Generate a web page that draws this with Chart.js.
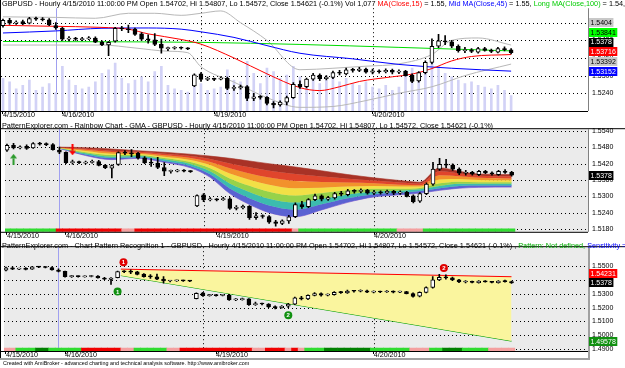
<!DOCTYPE html>
<html>
<head>
<meta charset="utf-8">
<script src="https://cdn.jsdelivr.net/npm/chart.js@4.4.1/dist/chart.umd.min.js"></script>
<style>
  body { margin: 0; width: 625px; height: 368px; overflow: hidden; background: #fff; position: relative;
         font-family: "Liberation Sans", Arial, sans-serif; }
  canvas { position: absolute; left: 0; }
  .hdr { position: absolute; left: 2px; font-size: 7.3px; line-height: 9px; white-space: nowrap; color: #000; z-index: 3; }
  #foot { position: absolute; left: 3px; top: 359px; font-size: 5.4px; line-height: 8px; white-space: nowrap; }
</style>
</head>
<body>
<div class="hdr" id="h1" style="top:-1px">GBPUSD - Hourly 4/15/2010 11:00:00 PM Open 1.54702, Hi 1.54807, Lo 1.54572, Close 1.54621 (-0.1%) Vol 1,077 <span style="color:#f00">MA(Close,15)</span> = 1.55, <span style="color:#00f">Mid MA(Close,45)</span> = 1.55, <span style="color:#0c0">Long MA(Close,100)</span> = 1.54, <span style="color:#999">BBTop(Close,15,2) = 1.55</span></div>
<div class="hdr" id="h2" style="top:121px">PatternExplorer.com - Rainbow Chart - GMA - GBPUSD - Hourly 4/15/2010 11:00:00 PM Open 1.54702, Hi 1.54807, Lo 1.54572, Close 1.54621 (-0.1%)</div>
<div class="hdr" id="h3" style="top:241px">PatternExplorer.com - Chart Pattern Recognition 1 - GBPUSD - Hourly 4/15/2010 11:00:00 PM Open 1.54702, Hi 1.54807, Lo 1.54572, Close 1.54621 (-0.1%) , <span style="color:#0a0">Pattern: Not defined,</span> <span style="color:#00f">Sensitivity = 1</span></div>
<canvas id="c1" width="625" height="121" style="top:0"></canvas>
<canvas id="c2" width="625" height="119" style="top:121px"></canvas>
<canvas id="c3" width="625" height="121" style="top:239px"></canvas>
<div id="foot">Created with AmiBroker - advanced charting and technical analysis software. http://www.amibroker.com</div>
<script>
// ---- hourly bars, 4/15/2010 15:00 .. 4/20/2010 21:00 ----
const opens = [1.5470,1.5488,1.5478,1.5484,1.5478,1.5494,1.5492,1.5490,1.54702,
  1.5462,1.5424,1.5427,1.5422,1.5425,1.5428,1.5414,1.5404,1.5417,1.5461,1.5459,1.5458,1.5442,1.5424,1.5422,1.5406,1.5392,1.5393,1.5395,1.5393,
  1.5265,1.5306,1.5287,1.5289,1.5288,1.5291,1.5256,1.5258,1.5263,1.5222,1.5228,1.5226,1.5206,1.5200,1.5210,1.5225,1.5270,1.5262,1.5288,1.5302,
  1.5290,1.5294,1.5310,1.5306,1.5320,1.5318,1.5322,1.5312,1.5316,1.5313,1.5318,1.5312,1.5315,1.5302,1.5282,1.5310,1.5345,1.5400,1.5418,1.5415,
  1.5400,1.5385,1.5388,1.5380,1.5392,1.5386,1.5380,1.5392,1.5388];
const highs = [1.5492,1.5495,1.5486,1.5489,1.5498,1.5499,1.5497,1.5494,1.54807,
  1.5464,1.5433,1.5430,1.5430,1.5433,1.5432,1.5418,1.5416,1.5464,1.5468,1.5472,1.5462,1.5446,1.5439,1.5443,1.5424,1.5397,1.5399,1.5398,1.5395,
  1.5306,1.5310,1.5295,1.5292,1.5296,1.5295,1.5266,1.5268,1.5266,1.5240,1.5232,1.5229,1.5212,1.5214,1.5230,1.5276,1.5282,1.5292,1.5308,1.5306,
  1.5300,1.5315,1.5318,1.5326,1.5325,1.5328,1.5326,1.5322,1.5320,1.5323,1.5322,1.5320,1.5318,1.5306,1.5314,1.5350,1.5425,1.5440,1.5436,1.5420,
  1.5405,1.5396,1.5392,1.5396,1.5396,1.5390,1.5396,1.5398,1.5392];
const lows = [1.5465,1.5474,1.5474,1.5473,1.5476,1.5488,1.5486,1.5470,1.54572,
  1.5420,1.5418,1.5420,1.5419,1.5422,1.5412,1.5402,1.5368,1.5414,1.5453,1.5446,1.5437,1.5420,1.5410,1.5402,1.5376,1.5385,1.5390,1.5390,1.5388,
  1.5262,1.5280,1.5283,1.5283,1.5285,1.5252,1.5250,1.5254,1.5215,1.5215,1.5220,1.5200,1.5190,1.5196,1.5200,1.5222,1.5256,1.5258,1.5284,1.5283,
  1.5285,1.5290,1.5302,1.5302,1.5312,1.5313,1.5308,1.5306,1.5308,1.5309,1.5306,1.5307,1.5298,1.5276,1.5278,1.5306,1.5340,1.5395,1.5405,1.5395,
  1.5380,1.5378,1.5378,1.5376,1.5383,1.5378,1.5377,1.5384,1.5374];
const closes = [1.5488,1.5478,1.5482,1.5476,1.5494,1.5492,1.5490,1.5472,1.54621,
  1.5424,1.5427,1.5424,1.5426,1.5428,1.5414,1.5405,1.5413,1.5461,1.5459,1.5456,1.5440,1.5424,1.5422,1.5406,1.5393,1.5393,1.5396,1.5393,1.5391,
  1.5303,1.5287,1.5289,1.5287,1.5290,1.5256,1.5260,1.5263,1.5222,1.5228,1.5226,1.5205,1.5200,1.5210,1.5225,1.5270,1.5262,1.5288,1.5302,1.5290,
  1.5295,1.5310,1.5308,1.5320,1.5318,1.5322,1.5312,1.5316,1.5313,1.5318,1.5312,1.5315,1.5300,1.5280,1.5310,1.5345,1.5400,1.5418,1.5415,1.5400,
  1.5385,1.5388,1.5382,1.5392,1.5386,1.5382,1.5392,1.5388,1.5378];
const volumes = [1900,1700,1300,1500,1800,1200,1400,1600,1077,
  2600,1800,1500,1300,1400,1700,2200,2400,2800,1900,1600,1800,2000,1700,2300,2600,1500,1300,1200,1100,
  2100,1600,1200,1300,1400,2400,1800,1700,2900,2200,1600,2500,2300,1900,2100,2600,2000,1700,1900,1600,
  1800,2200,1700,1900,1600,1500,1700,1400,1300,1500,1200,1400,2300,2500,2100,2700,3000,2600,2200,2000,
  1800,1600,1700,1500,1400,1300,1500,1200,900];

// x axis: day ticks, dotted session lines, selected bar
const dayTicks = [0, 9, 32, 56];
const dayLabels = ['4/15/2010', '4/16/2010', '4/19/2010', '4/20/2010'];
const vGrid = [30, 56];
const selIdx = 8;
const xMin = -0.3, xMax = 88.65;

// y tick labels per pane
const ticksTop = [1.5240, 1.5300, 1.5360, 1.5420, 1.5480];
const ticksMid = [1.5180, 1.5240, 1.5300, 1.5360, 1.5420, 1.5480, 1.5540];
const ticksBot = [1.4900, 1.5000, 1.5100, 1.5200, 1.5300, 1.5400, 1.5500];

// top pane indicators [bar, value]
const ma15 = [[0,1.5471],[7,1.5468],[15,1.5464],[19,1.5458],[22,1.5442],[27,1.5423],[30,1.5407],[35,1.5360],[40,1.5306],[45,1.5259],
  [48,1.5249],[51,1.5262],[54,1.5280],[59,1.5296],[62,1.5305],[65,1.5324],[68,1.5350],[71,1.5365],[77,1.53716]];
const ma45 = [[0,1.5445],[8,1.5452],[15,1.5461],[22,1.5462],[27,1.5458],[30,1.5449],[35,1.5430],[40,1.5402],[45,1.5376],
  [53,1.5357],[60,1.5338],[68,1.5325],[77,1.53152]];
const ma100 = [[0,1.5416],[30,1.5413],[45,1.5406],[60,1.5396],[77,1.53841]];
const bbTop = [[0,1.5500],[8,1.5498],[14,1.5495],[19,1.5512],[23,1.5512],[27,1.5505],[30,1.5512],[33,1.5520],[36,1.5480],[40,1.5420],
  [45,1.5320],[50,1.5325],[55,1.5332],[60,1.5340],[65,1.5372],[68,1.5420],[72,1.5428],[77,1.5404]];
const bbBot = [[0,1.5404],[15,1.5404],[20,1.5394],[25,1.5383],[28,1.5378],[30,1.5330],[35,1.5278],[40,1.5225],[45,1.5192],
  [50,1.5195],[55,1.5215],[60,1.5240],[65,1.5262],[70,1.5300],[77,1.53392]];

// middle pane rainbow, bands ranked from top edge to bottom edge
const rbIdx = [8,12,16,20,24,28,31,34,37,40,44,48,52,56,60,63,66,69,72,77];
const rb0 = [1.5481,1.5479,1.5474,1.5468,1.5462,1.5455,1.5448,1.5440,1.5430,1.5420,1.5408,1.5394,1.5380,1.5368,1.5358,1.5352,1.5405,1.5392,1.5382,1.5380];
const rb1 = [1.5480,1.5475,1.5468,1.5464,1.5457,1.5448,1.5437,1.5421,1.5407,1.5394,1.5382,1.5373,1.5365,1.5358,1.5351,1.5347,1.5392,1.5384,1.5376,1.5374];
const rb2 = [1.5480,1.5471,1.5463,1.5460,1.5451,1.5441,1.5426,1.5403,1.5384,1.5369,1.5356,1.5353,1.5351,1.5348,1.5343,1.5341,1.5378,1.5374,1.5368,1.5366];
const rb3 = [1.5479,1.5467,1.5457,1.5456,1.5446,1.5434,1.5415,1.5384,1.5361,1.5343,1.5330,1.5332,1.5336,1.5338,1.5336,1.5336,1.5362,1.5364,1.5360,1.5359];
const rb4 = [1.5478,1.5462,1.5452,1.5452,1.5441,1.5426,1.5403,1.5366,1.5339,1.5317,1.5303,1.5312,1.5322,1.5328,1.5328,1.5331,1.5348,1.5354,1.5352,1.5352];
const rb5 = [1.5478,1.5458,1.5446,1.5448,1.5436,1.5419,1.5392,1.5347,1.5316,1.5291,1.5277,1.5291,1.5307,1.5318,1.5321,1.5326,1.5338,1.5346,1.5346,1.5346];
const rb6 = [1.5477,1.5454,1.5441,1.5444,1.5430,1.5412,1.5381,1.5329,1.5293,1.5266,1.5251,1.5271,1.5293,1.5308,1.5313,1.5320,1.5330,1.5338,1.5340,1.5340];
const rb7 = [1.5476,1.5450,1.5435,1.5440,1.5425,1.5405,1.5370,1.5310,1.5270,1.5240,1.5225,1.5250,1.5278,1.5298,1.5306,1.5312,1.5322,1.5330,1.5333,1.5334];
const rbFill = ['#a83226', '#e0452c', '#f2922c', '#f2e046', '#96d24a', '#3cbcae', '#5a62d2'];
const arrowIdx = [1, 10];
const arrowVal = [1.5436, 1.5471];

// bottom pane pattern
const resist = [[17.5,1.5478],[77,1.54231]];
const support = [[17.5,1.5432],[77,1.49578]];
const markIdx = [17.9, 66.7, 17, 43];
const markVal = [1.5527, 1.5486, 1.5316, 1.5145];
const markTxt = ['1', '2', '1', '2'];
const markCol = ['#e00000', '#e00000', '#109010', '#109010'];

// trend strips (p pink, r red, g green, G dark green)
const stripBot = 'ppgggGGgggggrrrrrrppgggggpprrrrrrrrrrrpprrrprpgggGGGGGGGggggggpppggGGGggggpppp'.split('');
const stripMid = 'ggggggggrrrrrrrrrrpprrrrrrrrrrrrrrrrrrrrrrrrpgggggggggggggggppppgggggggggggggg'.split('');
const stripCol = { p: '#f4a0a0', r: '#f00000', g: '#30dc30', G: '#008000' };

// right-axis value tags [value, text, background, text colour]
const tagsTop = [[1.5404,'1.5404','#c8c8c8','#000'],[1.53841,'1.53841','#00ff00','#000'],[1.5378,'1.5378','#000','#fff'],
  [1.53716,'1.53716','#ff0000','#fff'],[1.53392,'1.53392','#c8c8c8','#000'],[1.53152,'1.53152','#0000ff','#fff']];
const tagsMid = [[1.5378,'1.5378','#000','#fff']];
const tagsBot = [[1.54231,'1.54231','#ff0000','#fff'],[1.5378,'1.5378','#000','#fff'],[1.49578,'1.49578','#109010','#fff']];

const FONT = '"Liberation Sans", Arial, sans-serif';
const bars = closes.map((c, i) => i);
const pts = a => a.map(([x, y]) => ({ x, y }));

const amiPane = {
  id: 'amiPane',
  beforeDraw(c, args, o) {
    const { ctx, chartArea: r } = c;
    const x = c.scales.x, y = c.scales.y;
    ctx.save();
    ctx.fillStyle = o.bg;
    ctx.fillRect(r.left, r.top, r.right - r.left, r.bottom - r.top);
    ctx.strokeStyle = '#000';
    ctx.lineWidth = 1;
    ctx.setLineDash([1, 3]);
    o.ticks.forEach(v => {
      const py = Math.round(y.getPixelForValue(v)) + 0.5;
      ctx.beginPath(); ctx.moveTo(r.left, py); ctx.lineTo(r.right, py); ctx.stroke();
    });
    vGrid.forEach(v => {
      const px = Math.round(x.getPixelForValue(v)) + 0.5;
      ctx.beginPath(); ctx.moveTo(px, r.top); ctx.lineTo(px, r.bottom); ctx.stroke();
    });
    ctx.setLineDash([]);
    ctx.strokeStyle = '#a0a0f0';
    const sx = Math.round(x.getPixelForValue(selIdx)) + 0.5;
    ctx.beginPath(); ctx.moveTo(sx, r.top); ctx.lineTo(sx, r.bottom); ctx.stroke();
    ctx.restore();
  },
  afterDraw(c, args, o) {
    const { ctx, chartArea: r } = c;
    const y = c.scales.y;
    ctx.save();
    ctx.strokeStyle = '#000';
    ctx.lineWidth = 1;
    ctx.beginPath();
    ctx.moveTo(0, r.bottom + 0.5); ctx.lineTo(r.right, r.bottom + 0.5);
    if (o.topLine) { ctx.moveTo(0, r.top - 0.5); ctx.lineTo(c.width, r.top - 0.5); }
    ctx.moveTo(0.5, 0); ctx.lineTo(0.5, c.height);
    ctx.stroke();
    ctx.strokeStyle = '#808080';
    ctx.beginPath(); ctx.moveTo(r.right + 0.5, r.top); ctx.lineTo(r.right + 0.5, o.rightTo || r.bottom); ctx.stroke();
    if (o.frameBottom) {
      ctx.fillStyle = '#a0a0a0';
      ctx.fillRect(0, o.frameBottom, r.right + 2, 2);
      ctx.fillRect(r.right, r.top, 2, o.frameBottom - r.top + 2);
    }
    // value tags, pushed up so they never overlap
    const h = 9.7;
    const pos = o.tags.map(t => y.getPixelForValue(t[0]));
    for (let i = pos.length - 2; i >= 0; i--) pos[i] = Math.min(pos[i], pos[i + 1] - h);
    ctx.font = '7px ' + FONT;
    ctx.textBaseline = 'middle';
    o.tags.forEach((t, i) => {
      const w = ctx.measureText(t[1]).width + 3;
      ctx.fillStyle = t[2];
      ctx.fillRect(r.right + 1, Math.round(pos[i] - 4.5), w, 9);
      ctx.fillStyle = t[3];
      ctx.fillText(t[1], r.right + 2.5, pos[i] + 0.5);
    });
    // numbered pattern markers
    if (o.marks) {
      const x = c.scales.x;
      ctx.font = 'bold 6px ' + FONT;
      ctx.textAlign = 'center';
      ctx.fillStyle = '#fff';
      markIdx.forEach((m, i) => ctx.fillText(markTxt[i], x.getPixelForValue(m), y.getPixelForValue(markVal[i]) + 0.5));
    }
    ctx.restore();
  }
};

function xAxis(h) {
  return {
    type: 'linear', min: xMin, max: xMax, offset: false,
    afterBuildTicks: s => { s.ticks = dayTicks.map(v => ({ value: v })); },
    afterFit: s => { s.height = h; },
    grid: { offset: false, drawOnChartArea: false, drawTicks: true, tickLength: 3, color: '#000' },
    border: { display: false },
    ticks: { align: 'start', padding: -3, autoSkip: false, maxRotation: 0, color: '#000',
             font: { size: 7.2, family: FONT }, callback: (v, i) => dayLabels[i] }
  };
}
function yAxis(min, max, ticks) {
  return {
    position: 'right', min, max,
    afterBuildTicks: s => { s.ticks = ticks.map(v => ({ value: v })); },
    afterFit: s => { s.width = 37; },
    grid: { display: false, drawTicks: false }, border: { display: false },
    ticks: { padding: 4, color: '#000', font: { size: 7, family: FONT }, callback: v => v.toFixed(4) }
  };
}
function candles() {
  const up = bars.map(i => closes[i] >= opens[i]);
  return [
    { type: 'bar', order: 1, grouped: false, barThickness: 4, minBarLength: 1,
      data: bars.map(i => ({ x: i, y: [opens[i], closes[i]] })),
      backgroundColor: up.map(u => u ? '#fff' : '#000'), borderColor: '#000', borderWidth: 1, borderSkipped: false },
    { type: 'bar', order: 2, grouped: false, barThickness: 1,
      data: bars.map(i => ({ x: i, y: [lows[i], highs[i]] })), backgroundColor: '#000' }
  ];
}
function strip(codes) {
  return { type: 'bar', order: 30, grouped: false, yAxisID: 'yS', barPercentage: 1, categoryPercentage: 1,
    data: bars.map(i => ({ x: i, y: [0, 0.028] })), backgroundColor: codes.map(k => stripCol[k]) };
}
function line(a, color, order) {
  return { type: 'line', order, data: pts(a), borderColor: color, borderWidth: 1, pointRadius: 0,
           cubicInterpolationMode: 'monotone', fill: false };
}
function makeArrow(color, up) {
  const cv = document.createElement('canvas');
  cv.width = 7; cv.height = 11;
  const g = cv.getContext('2d');
  g.fillStyle = color;
  g.save();
  if (!up) { g.translate(0, 11); g.scale(1, -1); }
  g.beginPath(); g.moveTo(3.5, 0); g.lineTo(7, 4.5); g.lineTo(0, 4.5); g.closePath(); g.fill();
  g.fillRect(2.5, 4.5, 2, 6.5);
  g.restore();
  return cv;
}
const common = (pad, opts, scales) => ({
  responsive: false, animation: false, devicePixelRatio: 1,
  layout: { padding: { left: 1, right: 0, top: pad, bottom: 0 } },
  plugins: { legend: { display: false }, tooltip: { enabled: false }, amiPane: opts },
  scales
});

// ---- pane 1: price, averages, bands, volume ----
new Chart(document.getElementById('c1'), {
  type: 'bar',
  data: { datasets: [
    ...candles(),
    line(ma15, '#ff0000', 5), line(ma45, '#0000ff', 5), line(ma100, '#00dd00', 5),
    line(bbTop, '#b8b8b8', 6), line(bbBot, '#b8b8b8', 6),
    { type: 'bar', order: 20, grouped: false, yAxisID: 'yV', barThickness: 2,
      data: bars.map(i => ({ x: i, y: volumes[i] })), backgroundColor: '#d2d2f6' }
  ] },
  options: common(1, { bg: '#fff', ticks: ticksTop, tags: tagsTop }, {
    x: xAxis(10), y: yAxis(1.51796, 1.55293, ticksTop),
    yV: { display: false, min: 0, max: 6000 }
  }),
  plugins: [amiPane]
});

// ---- pane 2: rainbow ----
const rb = [rb0, rb1, rb2, rb3, rb4, rb5, rb6, rb7];
new Chart(document.getElementById('c2'), {
  type: 'bar',
  data: { datasets: [
    ...rb.map((a, k) => ({ type: 'line', order: 10, data: rbIdx.map((x, j) => ({ x, y: a[j] })),
      borderColor: k < 7 ? rbFill[k] : '#7a3cc8', borderWidth: 0.6, pointRadius: 0, cubicInterpolationMode: 'monotone',
      fill: k < 7 ? '+1' : false, backgroundColor: rbFill[k] })),
    ...candles(),
    strip(stripMid),
    { type: 'scatter', order: 0, data: arrowIdx.map((x, i) => ({ x, y: arrowVal[i] })),
      pointStyle: [makeArrow('#2a9a2a', true), makeArrow('#ff0000', false)] }
  ] },
  options: common(2, { bg: '#ebebeb', ticks: ticksMid, tags: tagsMid, topLine: true }, {
    x: xAxis(8), y: yAxis(1.51696, 1.55469, ticksMid),
    yS: { display: false, min: 0, max: 1 }
  }),
  plugins: [amiPane]
});

// ---- pane 3: chart pattern ----
new Chart(document.getElementById('c3'), {
  type: 'bar',
  data: { datasets: [
    { type: 'line', order: 12, data: pts(resist), borderColor: '#ff0000', borderWidth: 1, pointRadius: 0,
      fill: '+1', backgroundColor: '#faf59e' },
    { type: 'line', order: 12, data: pts(support), borderColor: '#00a000', borderWidth: 1, pointRadius: 0, fill: false },
    ...candles(),
    strip(stripBot),
    { type: 'scatter', order: 0, data: markIdx.map((x, i) => ({ x, y: markVal[i] })),
      pointRadius: 4, pointBackgroundColor: markCol, pointBorderWidth: 0 }
  ] },
  options: common(2, { bg: '#ebebeb', ticks: ticksBot, tags: tagsBot, topLine: true, marks: true, frameBottom: 119 }, {
    x: xAxis(9), y: yAxis(1.48864, 1.56364, ticksBot),
    yS: { display: false, min: 0, max: 1 }
  }),
  plugins: [amiPane]
});
</script>
</body>
</html>
